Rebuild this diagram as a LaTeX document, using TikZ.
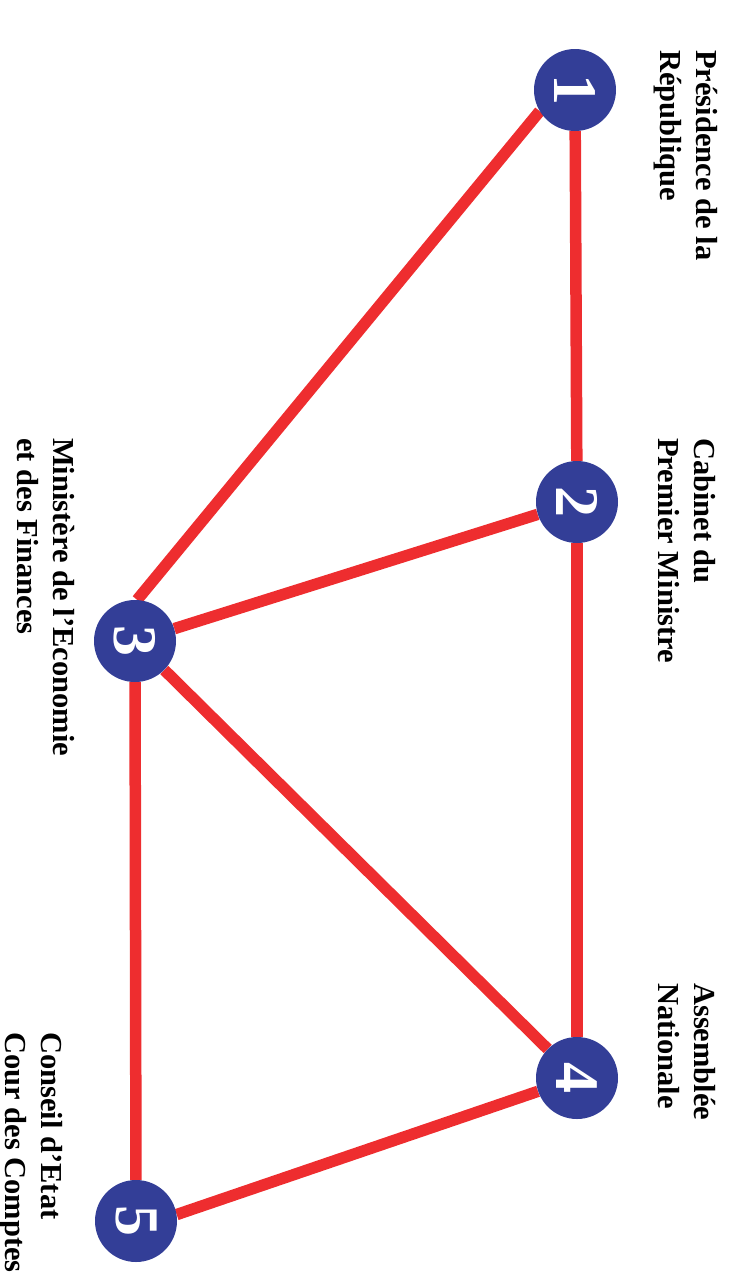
\documentclass[tikz,border=0pt]{standalone}
\usepackage{fontspec}
\setmainfont{Liberation Serif}
\usetikzlibrary{backgrounds}
\definecolor{nodeblue}{HTML}{333E97}
\definecolor{linkred}{HTML}{EE2D2F}
\tikzset{
  circ/.style={circle, fill=nodeblue, minimum size=82pt, inner sep=0pt, text=white,
    font=\fontsize{62}{62}\selectfont\bfseries},
  lbl/.style={anchor=north west, rotate=-90, inner sep=0pt, align=left,
    font=\fontsize{30.5}{36}\selectfont\bfseries, text=black},
  link/.style={draw=linkred, line width=11.5pt}
}
\newcommand{\digit}[1]{\rotatebox{-90}{#1}}
\begin{document}
\begin{tikzpicture}[x=1pt,y=-1pt]
\useasboundingbox (0,0) rectangle (731,1277);
\node[circ] (n1) at (575,90) {\digit{1}};
\node[circ] (n2) at (577,502) {\digit{2}};
\node[circ] (n3) at (135,641) {\digit{3}};
\node[circ] (n4) at (577,1078) {\digit{4}};
\node[circ] (n5) at (136,1221) {\digit{5}};
\begin{pgfonlayer}{background}
\draw[link] (n1) -- (n2);
\draw[link] (n1.211) -- (n3.87);
\draw[link] (n2) -- (n3);
\draw[link] (n2) -- (n4);
\draw[link] (n3) -- (n4);
\draw[link] (n3) -- (n5);
\draw[link] (n4) -- (n5.9);
\end{pgfonlayer}
\node[lbl] (l1) at (718,50) {Présidence de la\\République};
\node[lbl] (l2) at (716,438) {Cabinet du\\Premier Ministre};
\node[lbl] (l3) at (75,438) {Ministère de l’Economie\\et des Finances};
\node[lbl] (l4) at (716,983) {Assemblée\\Nationale};
\node[lbl] (l5) at (63,1032) {Conseil d’Etat\\Cour des Comptes};
\end{tikzpicture}
\end{document}
